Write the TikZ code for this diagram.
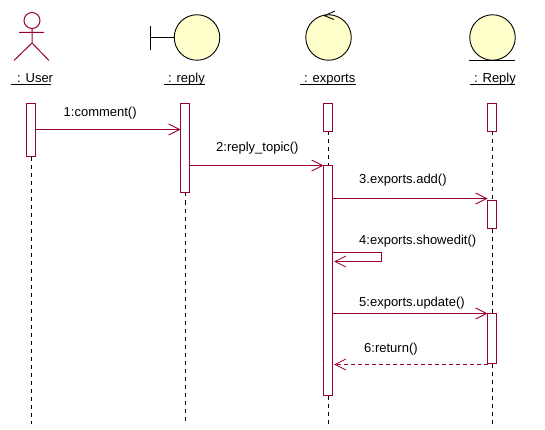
\documentclass[tikz,border=0pt]{standalone}
\usepackage{fontspec}
\setmainfont{Liberation Sans}
\usetikzlibrary{arrows.meta}
\definecolor{rose}{HTML}{990033}
\definecolor{pale}{HTML}{FFFFCC}
\tikzset{
  x=1pt,y=-1pt,
  activation/.style={draw=rose,fill=white,line width=1pt,rectangle,inner sep=0pt,outer sep=0pt,minimum width=9pt,anchor=north west},
  lifeline/.style={draw=black,line width=1pt,dash pattern=on 4pt off 4pt},
  message/.style={draw=rose,line width=1pt,-{Straight Barb[length=11pt,width=11pt,line width=0.8pt]}},
  reply message/.style={message,dash pattern=on 4pt off 3pt},
  entity/.style={draw=black,fill=pale,line width=0.9pt,circle,inner sep=0pt,minimum size=45.5pt},
  glyph/.style={draw=black,line width=0.9pt},
  actor/.style={draw=rose,line width=1pt},
  txt/.style={font=\fontsize{13}{14}\selectfont,inner sep=0pt,anchor=base west,text=black},
  uline/.style={draw=black,line width=0.9pt}
}
\begin{document}
\begin{tikzpicture}
\useasboundingbox (0,0) rectangle (545,430);
% lifeline ends
\coordinate (uEnd) at (31.5,424);
\coordinate (rEnd) at (185,424);
\coordinate (eEnd) at (328.5,424);
\coordinate (pEnd) at (492.5,424);
% actor
\node[actor,circle,inner sep=0pt,minimum size=16pt] (head) at (32,20.5) {};
\coordinate (hip) at (32,43);
\coordinate (armL) at (19,32.5);
\coordinate (armR) at (44,32.5);
\coordinate (legL) at (14,60.5);
\coordinate (legR) at (49,60.5);
\draw[actor] (head.south) -- (hip) (armL) -- (armR) (legL) -- (hip) -- (legR);
% objects
\node[entity] (boundary) at (197,37.5) {};
\coordinate (barT) at (150.5,26);
\coordinate (barB) at (150.5,50);
\coordinate (barM) at (150.5,37.5);
\draw[glyph] (barT) -- (barB) (barM) -- (boundary.west);
\node[entity] (control) at (328.5,37.5) {};
\coordinate (cA) at (335,11);
\coordinate (cB) at (324.5,15.7);
\coordinate (cC) at (334,19.5);
\draw[glyph] (cA) -- (cB) -- (cC);
\node[entity] (store) at (492.5,37.5) {};
\coordinate (sL) at (469,60.5);
\coordinate (sR) at (515,60.5);
\draw[glyph] (sL) -- (sR);
% labels
\node[txt] (lu) at (17,82.5) {: User};
\node[txt] (lr) at (168,82.5) {: reply};
\node[txt] (le) at (304,82.5) {: exports};
\node[txt] (lp) at (474,82.5) {: Reply};
\draw[uline] (11,84.5) -- (51,84.5);
\draw[uline] (164,84.5) -- (205,84.5);
\draw[uline] (300,84.5) -- (356,84.5);
\draw[uline] (470,84.5) -- (515,84.5);
% lifelines
\draw[lifeline] (31.5,157) -- (uEnd);
\draw[lifeline] (185,192.5) -- (rEnd);
\draw[lifeline] (328.5,131.5) -- (328.5,165.5);
\draw[lifeline] (328.5,395.5) -- (eEnd);
\draw[lifeline] (492.5,131.5) -- (492.5,200.5);
\draw[lifeline] (492.5,228.5) -- (492.5,313.5);
\draw[lifeline] (492.5,363.5) -- (pEnd);
% activations
\node[activation,minimum height=53.5pt] (aU) at (26.5,103.5) {};
\node[activation,minimum height=89pt] (aR) at (180.5,103.5) {};
\node[activation,minimum height=28pt] (aE1) at (323.5,103.5) {};
\node[activation,minimum height=230pt] (aE2) at (323.5,165.5) {};
\node[activation,minimum height=28pt] (aP1) at (487.5,103.5) {};
\node[activation,minimum height=28pt] (aP2) at (487.5,200.5) {};
\node[activation,minimum height=50pt] (aP3) at (487.5,313.5) {};
% messages
\draw[message] (aU.east |- 0,129.5) -- (aR.west |- 0,129.5);
\draw[message] (aR.east |- 0,165.5) -- (aE2.west |- 0,165.5);
\draw[message] (aE2.east |- 0,198.5) -- (aP2.west |- 0,198.5);
\draw[message] (aE2.east |- 0,252.5) -- (381.5,252.5) -- (381.5,261.5) -- ([xshift=1.5pt]aE2.east |- 0,261.5);
\draw[message] (aE2.east |- 0,313.5) -- (aP3.west |- 0,313.5);
\draw[reply message] (aP3.west |- 0,364.5) -- ([xshift=1.5pt]aE2.east |- 0,364.5);
% message labels
\node[txt] (m1) at (63.5,116.5) {1:comment()};
\node[txt] (m2) at (216,152) {2:reply\_topic()};
\node[txt] (m3) at (359,183.5) {3.exports.add()};
\node[txt] (m4) at (359,244.5) {4:exports.showedit()};
\node[txt] (m5) at (359,306) {5:exports.update()};
\node[txt] (m6) at (364,352) {6:return()};
\end{tikzpicture}
\end{document}
